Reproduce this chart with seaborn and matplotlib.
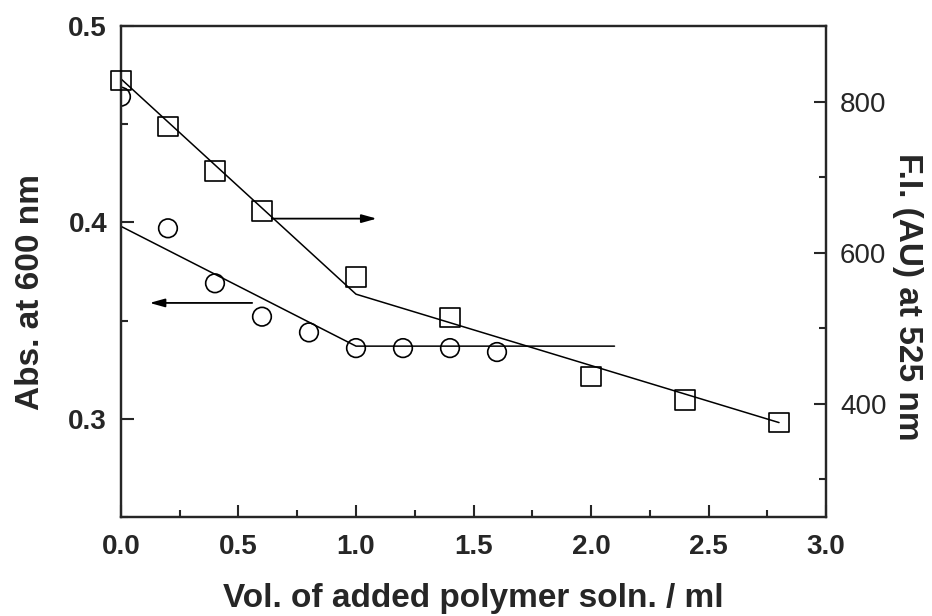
import matplotlib
matplotlib.use("Agg")
import matplotlib.pyplot as plt
import seaborn as sns
import pandas as pd
from matplotlib.ticker import MultipleLocator

# Dati
vol_abs = [0.0, 0.2, 0.4, 0.6, 0.8, 1.0, 1.2, 1.4, 1.6]
abs_600 = [0.464, 0.397, 0.369, 0.352, 0.344, 0.336, 0.336, 0.336, 0.334]
fit_abs_x = [0.0, 1.0, 2.1]
fit_abs_y = [0.398, 0.337, 0.337]

vol_fi = [0.0, 0.2, 0.4, 0.6, 1.0, 1.4, 2.0, 2.4, 2.8]
fi_525 = [828, 767, 708, 655, 568, 514, 436, 405, 375]
fit_fi_x = [0.0, 1.0, 2.8]
fit_fi_y = [830, 545, 375]

# frecce (inizio, fine, livello)
arrow_abs = (0.57, 0.11, 0.359)
arrow_fi = (0.63, 1.10, 645)

sns.set_style("ticks")
plt.rcParams['font.family'] = ['Liberation Sans', 'DejaVu Sans']

fig = plt.figure(figsize=(9.32, 6.16), dpi=100)
ax = fig.add_axes([0.1298, 0.1607, 0.7565, 0.7971])
ax2 = ax.twinx()

df_abs = pd.DataFrame({"vol": vol_abs, "abs": abs_600})
df_fi = pd.DataFrame({"vol": vol_fi, "fi": fi_525})

sns.lineplot(x=fit_abs_x, y=fit_abs_y, ax=ax, color="black", lw=1.1)
sns.scatterplot(data=df_abs, x="vol", y="abs", ax=ax, marker="o", s=180,
                facecolor="none", edgecolor="black", linewidth=1.2)
sns.lineplot(x=fit_fi_x, y=fit_fi_y, ax=ax2, color="black", lw=1.1)
sns.scatterplot(data=df_fi, x="vol", y="fi", ax=ax2, marker="s", s=200,
                facecolor="none", edgecolor="black", linewidth=1.2, clip_on=False, zorder=5)

arrow_props = dict(arrowstyle="-|>,head_length=0.9,head_width=0.25", color="black", lw=1.3)
ax.annotate("", xy=(arrow_abs[1], arrow_abs[2]), xytext=(arrow_abs[0], arrow_abs[2]),
            arrowprops=arrow_props)
ax2.annotate("", xy=(arrow_fi[1], arrow_fi[2]), xytext=(arrow_fi[0], arrow_fi[2]),
             arrowprops=arrow_props)

ax.set_xlim(0, 3.0)
ax.set_ylim(0.25, 0.5)
ax2.set_ylim(250, 900)

ax.xaxis.set_major_locator(MultipleLocator(0.5))
ax.xaxis.set_minor_locator(MultipleLocator(0.25))
ax.yaxis.set_major_locator(MultipleLocator(0.1))
ax.yaxis.set_minor_locator(MultipleLocator(0.05))
ax2.yaxis.set_major_locator(MultipleLocator(200))
ax2.yaxis.set_minor_locator(MultipleLocator(100))
ax.xaxis.set_major_formatter(plt.FormatStrFormatter("%.1f"))
ax.yaxis.set_major_formatter(plt.FormatStrFormatter("%.1f"))

for a in (ax, ax2):
    a.tick_params(which="major", direction="in", length=9, width=1.5, labelsize=20)
    a.tick_params(which="minor", direction="in", length=5, width=1.5)
    for s in a.spines.values():
        s.set_visible(True)
        s.set_linewidth(1.6)
ax.tick_params(axis="y", which="both", right=False, pad=10)
ax.tick_params(axis="x", pad=12)
ax2.tick_params(axis="y", which="both", left=False, pad=10)
for lab in ax.get_xticklabels() + ax.get_yticklabels():
    lab.set_fontweight("bold")

ax.set_xlabel("Vol. of added polymer soln. / ml", fontsize=24, fontweight="bold", labelpad=17)
ax.set_ylabel("Abs. at 600 nm", fontsize=24, fontweight="bold", labelpad=16)
ax2.set_ylabel("F.I. (AU) at 525 nm", fontsize=24, fontweight="bold", labelpad=4,
               rotation=270, va="bottom")
ax.yaxis.label.set_y(0.458)
ax2.yaxis.label.set_y(0.448)

fig.savefig("out.png", dpi=100)
